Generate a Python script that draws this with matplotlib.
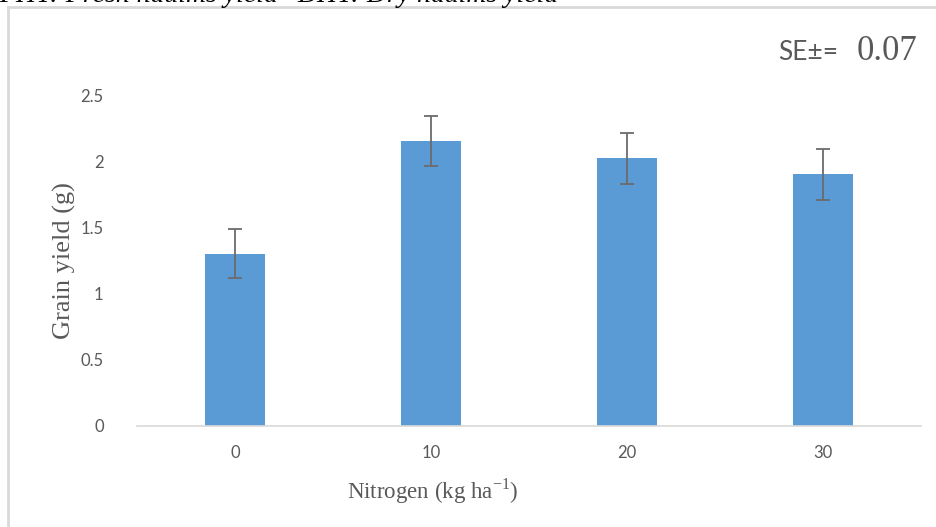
import matplotlib.pyplot as plt
from matplotlib.lines import Line2D

plt.rcParams['mathtext.fontset'] = 'custom'
plt.rcParams['mathtext.rm'] = 'Liberation Serif'

# data
nitrogen = ['0', '10', '20', '30']
grain_yield = [1.30, 2.15, 2.02, 1.90]
errors = [0.185, 0.19, 0.19, 0.19]
yticks = [0, 0.5, 1, 1.5, 2, 2.5]
ytick_labels = ['0', '0.5', '1', '1.5', '2', '2.5']

W, H = 936, 527
fig = plt.figure(figsize=(W / 100, H / 100), dpi=100)

# light gray chart frame (top and left visible)
fig.add_artist(Line2D([8 / W, 1.0], [1 - 7 / H, 1 - 7 / H], color='#d9d9d9', lw=2))
fig.add_artist(Line2D([8 / W, 8 / W], [0, 1 - 7 / H], color='#d9d9d9', lw=2))

# clipped caption at the very top
fig.text(278 / W, 1 - 1.5 / H, 'FHY: Fresh haulms yield', family='Liberation Serif',
         fontsize=20, color='black', va='baseline', ha='right', style='italic')
fig.text(297 / W, 1 - 1.5 / H, 'DHY: Dry haulms yield', family='Liberation Serif',
         fontsize=20, color='black', va='baseline', ha='left', style='italic')

ax = fig.add_axes([137 / W, (H - 425.7) / H, 784 / W, 330.7 / H])
x = range(len(nitrogen))
ax.bar(x, grain_yield, width=0.31, color='#5b9bd5', zorder=2)
ax.errorbar(x, grain_yield, yerr=errors, fmt='none', ecolor='#6b6b6b',
            elinewidth=1.3, capsize=5, capthick=1.3, zorder=3)

ax.set_xlim(-0.5, 3.5)
ax.set_ylim(0, 2.5)
ax.set_yticks(yticks)
ax.set_yticklabels(ytick_labels)
ax.set_xticks(list(x))
ax.set_xticklabels(nitrogen)
ax.tick_params(length=0, colors='#595959', labelsize=12)
ax.tick_params(axis='y', pad=24)
ax.tick_params(axis='x', pad=14)
for lab in ax.get_xticklabels() + ax.get_yticklabels():
    lab.set_family('Lato')

for s in ['top', 'right', 'left']:
    ax.spines[s].set_visible(False)
ax.spines['bottom'].set_color('#d9d9d9')
ax.spines['bottom'].set_linewidth(1.2)

ax.set_ylabel('Grain yield (g)', family='Liberation Serif', fontsize=19, color='#595959', labelpad=3)
ax.set_xlabel('Nitrogen (kg ha$^{-1}$)', family='Liberation Serif',
              fontsize=16.5, color='#595959')
ax.xaxis.set_label_coords((433 - 137) / 784, (425.7 - 476) / 330.7)

fig.text(838 / W, 1 - 52 / H, 'SE\u00b1=', family='Lato', fontsize=19,
         color='#595959', ha='right', va='center')
fig.text(887 / W, 1 - 51 / H, '0.07', family='Liberation Serif', fontsize=25,
         color='#595959', ha='center', va='center')

fig.savefig('out.png', dpi=100)
